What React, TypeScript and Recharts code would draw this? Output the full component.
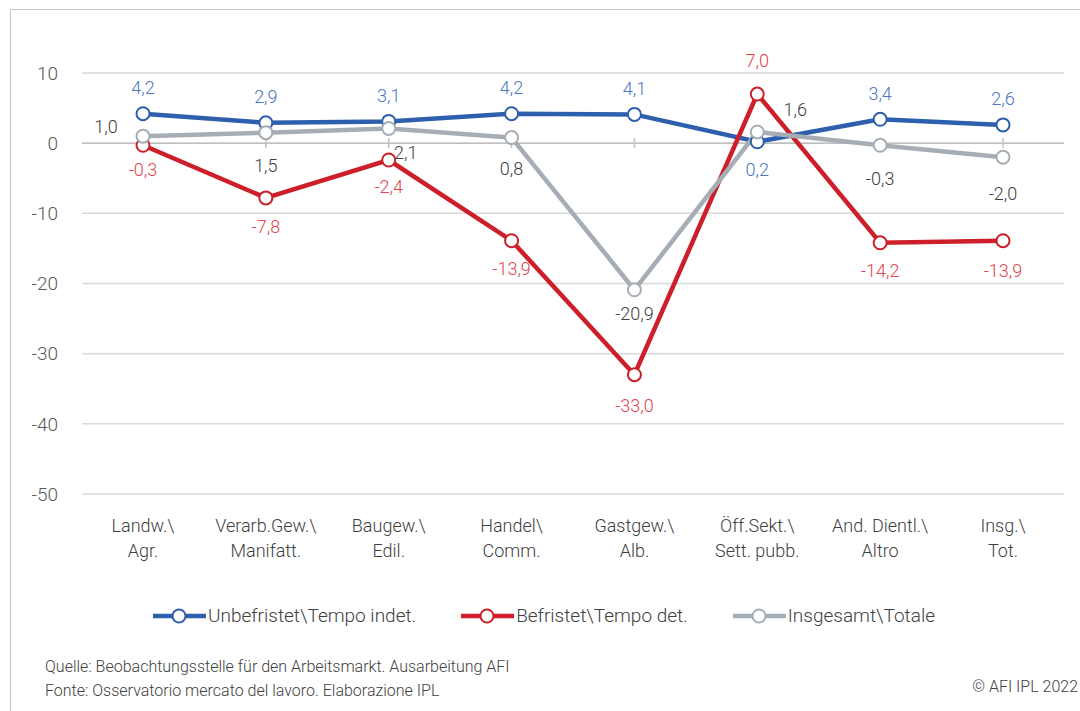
import React from "react";
import { LineChart, Line, XAxis, YAxis, CartesianGrid, ReferenceLine } from "recharts";

const categories = [
  "Landw.\\Agr.",
  "Verarb.Gew.\\Manifatt.",
  "Baugew.\\Edil.",
  "Handel\\Comm.",
  "Gastgew.\\Alb.",
  "Öff.Sekt.\\Sett. pubb.",
  "And. Dientl.\\Altro",
  "Insg.\\Tot.",
];
const unbefristet = [4.2, 2.9, 3.1, 4.2, 4.1, 0.2, 3.4, 2.6];
const befristet = [-0.3, -7.8, -2.4, -13.9, -33.0, 7.0, -14.2, -13.9];
const insgesamt = [1.0, 1.5, 2.1, 0.8, -20.9, 1.6, -0.3, -2.0];
const yTicks = [-50, -40, -30, -20, -10, 0, 10];
const seriesNames = ["Unbefristet\\Tempo indet.", "Befristet\\Tempo det.", "Insgesamt\\Totale"];

const FONT = "Roboto, 'Noto Sans', sans-serif";
const BLUE = "#2e5fac";
const RED = "#cc1f2a";
const GRAY = "#a6adb5";

// label offsets (dx, dy) per point
const blueOff = [[0, -26], [0, -26], [0, -26], [0, -26], [0, -26], [0, 28], [0, -26], [0, -26]];
const redOff = [[0, 24], [0, 29], [0, 26], [0, 28], [0, 31], [0, -34], [0, 28], [0, 30]];
const grayOff = [[-37, -10], [0, 33], [17, 24], [0, 31], [0, 24], [38, -22], [0, 33], [0, 36]];

const data = categories.map((c, i) => ({
  cat: c,
  u: unbefristet[i],
  b: befristet[i],
  t: insgesamt[i],
}));

const fmt = (v: number) => v.toFixed(1).replace(".", ",");

const makeLabel = (offs: number[][], color: string) => (props: any) => {
  const { x, y, value, index } = props;
  const [dx, dy] = offs[index];
  return (
    <text
      x={x + dx}
      y={y + dy}
      textAnchor="middle"
      dominantBaseline="central"
      fill={color}
      fontSize={18}
      fontFamily={FONT}
      fontWeight={300}
    >
      {fmt(value)}
    </text>
  );
};

const CatTick = (props: any) => {
  const { x, y, payload } = props;
  const [a, b] = String(payload.value).split("\\");
  return (
    <g>
      <text x={x} y={y + 30} textAnchor="middle" fill="#404040" fontSize={18} fontFamily={FONT} fontWeight={300}>
        {a + "\\"}
      </text>
      <text x={x} y={y + 55} textAnchor="middle" fill="#404040" fontSize={18} fontFamily={FONT} fontWeight={300}>
        {b.trim()}
      </text>
    </g>
  );
};

const series = [
  { key: "u", color: BLUE, name: seriesNames[0], label: makeLabel(blueOff, "#4a76c4") },
  { key: "b", color: RED, name: seriesNames[1], label: makeLabel(redOff, "#e2434d") },
  { key: "t", color: GRAY, name: seriesNames[2], label: makeLabel(grayOff, "#404040") },
];

export default function App() {
  return (
    <div style={{ position: "fixed", left: 0, top: 0, width: 1080, height: 711, background: "#fff", fontFamily: FONT, overflow: "hidden" }}>
      <div style={{ position: "absolute", left: 10, top: 9, width: 1080, height: 720, borderTop: "1.5px solid #c4c4c4", borderLeft: "1.5px solid #c4c4c4" }} />
      <div style={{ position: "absolute", left: 0, top: 0 }}>
        <LineChart width={1080} height={570} data={data} margin={{ top: 73, right: 16, left: 0, bottom: 6 }}>
          <CartesianGrid vertical={false} stroke="#d9d9d9" strokeWidth={1.5} />
          <XAxis
            dataKey="cat"
            axisLine={false}
            tickLine={false}
            height={70}
            tick={<CatTick />}
            interval={0}
            padding={{ left: 61, right: 61 }}
          />
          <YAxis
            domain={[-50, 10]}
            ticks={yTicks}
            axisLine={false}
            tickLine={false}
            width={82}
            tickMargin={18}
            tick={{ fill: "#595959", fontSize: 19, fontFamily: FONT, fontWeight: 300 }}
          />
          <ReferenceLine y={0} stroke="#bfbfbf" strokeWidth={1.5} />
          {categories.map((c) => (
            <ReferenceLine key={c} segment={[{ x: c, y: -0.7 }, { x: c, y: 0.7 }]} stroke="#bfbfbf" strokeWidth={1.5} />
          ))}
          {series.map((s) => (
            <Line
              key={s.key}
              dataKey={s.key}
              name={s.name}
              stroke={s.color}
              strokeWidth={4.5}
              dot={{ r: 6.5, fill: "#fff", stroke: s.color, strokeWidth: 2 }}
              activeDot={false}
              label={s.label}
              isAnimationActive={false}
            />
          ))}
        </LineChart>
      </div>
      <div style={{ position: "absolute", top: 604, left: 152, display: "flex", alignItems: "center", gap: 44, fontSize: 19, fontWeight: 300, color: "#404040" }}>
        {series.map((s) => (
          <div key={s.key} style={{ display: "flex", alignItems: "center" }}>
            <svg width={56} height={22}>
              <line x1={1} y1={11} x2={54} y2={11} stroke={s.color} strokeWidth={4.5} />
              <circle cx={27} cy={11} r={6.5} fill="#fff" stroke={s.color} strokeWidth={2} />
            </svg>
            <span>{s.name}</span>
          </div>
        ))}
      </div>
      <div style={{ position: "absolute", left: 45, top: 655, fontSize: 16, lineHeight: "24px", fontWeight: 300, color: "#404040" }}>
        <div>Quelle: Beobachtungsstelle für den Arbeitsmarkt. Ausarbeitung AFI</div>
        <div>Fonte: Osservatorio mercato del lavoro. Elaborazione IPL</div>
      </div>
      <div style={{ position: "absolute", right: 2, top: 677, fontSize: 16, fontWeight: 300, color: "#404040" }}>© AFI IPL 2022</div>
    </div>
  );
}
